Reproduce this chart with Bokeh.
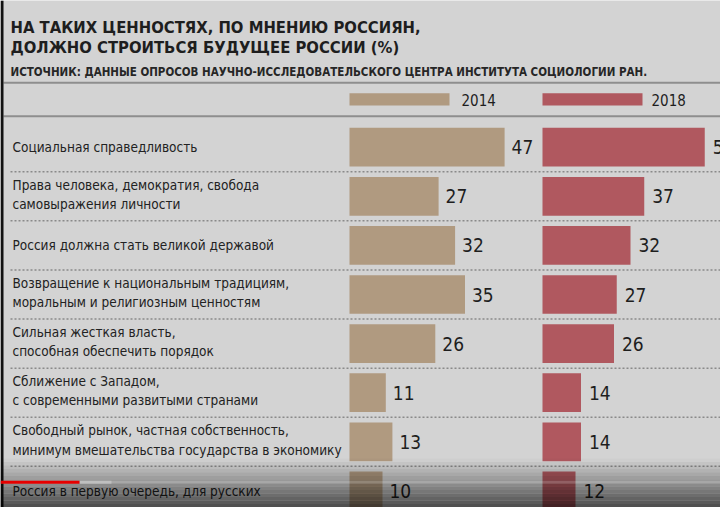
import numpy as np
from bokeh.plotting import figure
from bokeh.models import Range1d, ColumnDataSource
from bokeh.core.properties import value
from bokeh.embed import file_html
from bokeh.resources import INLINE

# ---------------- data ----------------
categories = [
    "Социальная справедливость",
    "Права человека, демократия, свобода\nсамовыражения личности",
    "Россия должна стать великой державой",
    "Возвращение к национальным традициям,\nморальным и религиозным ценностям",
    "Сильная жесткая власть,\nспособная обеспечить порядок",
    "Сближение с Западом,\nс современными развитыми странами",
    "Свободный рынок, частная собственность,\nминимум вмешательства государства в экономику",
    "Россия в первую очередь, для русских",
]
values_2014 = [47, 27, 32, 35, 26, 11, 13, 10]
values_2018 = [59, 37, 32, 27, 26, 14, 14, 12]
series_names = ["2014", "2018"]
title_lines = ["НА ТАКИХ ЦЕННОСТЯХ, ПО МНЕНИЮ РОССИЯН,",
               "ДОЛЖНО СТРОИТЬСЯ БУДУЩЕЕ РОССИИ (%)"]
source_text = "ИСТОЧНИК: ДАННЫЕ ОПРОСОВ НАУЧНО-ИССЛЕДОВАТЕЛЬСКОГО ЦЕНТРА ИНСТИТУТА СОЦИОЛОГИИ РАН."

# ---------------- style ----------------
W, H = 720, 507
BG = "#d3d3d3"
TAN = "#b09a80"
RED = "#b0585f"
INK = "#1e1e1e"
FONT = "DejaVu Sans Condensed, Roboto, sans-serif"

row_pitch = 49.1
first_center = 146.7
idx = list(range(len(categories)))

y_top = -first_center / row_pitch
y_bot = y_top + H / row_pitch

p = figure(width=W, height=H, output_backend="svg", toolbar_location=None,
           x_range=Range1d(0, W), y_range=Range1d(y_bot, y_top),
           min_border=0, min_border_left=0, min_border_right=0,
           min_border_top=0, min_border_bottom=0,
           background_fill_color=BG, border_fill_color=BG, outline_line_color=None)
p.axis.visible = False
p.grid.visible = False

p.extra_y_ranges = {"px": Range1d(H, 0)}
start14, scale14 = 349.0, 3.3
start18, scale18 = 542.0, 2.75
p.extra_x_ranges = {
    "v2014": Range1d(-start14 / scale14, (W - start14) / scale14),
    "v2018": Range1d(-start18 / scale18, (W - start18) / scale18),
}

# title & source
p.text(x=[10], y=[27], text=[title_lines[0]], y_range_name="px",
       text_font=value(FONT), text_font_style="bold", text_font_size="16.5px",
       text_color=INK, text_baseline="alphabetic")
p.text(x=[10], y=[46.5], text=[title_lines[1]], y_range_name="px",
       text_font=value(FONT), text_font_style="bold", text_font_size="16.5px",
       text_color=INK, text_baseline="alphabetic")
p.text(x=[10], y=[71.5], text=[source_text], y_range_name="px",
       text_font=value(FONT), text_font_style="bold", text_font_size="11.5px",
       text_color="#262626", text_baseline="alphabetic")

# header rules
p.segment(x0=[3, 3], x1=[W, W], y0=[82.3, 115.7], y1=[82.3, 115.7],
          y_range_name="px", line_color="#8e8e8e", line_width=2)

# legend
p.quad(left=[0], right=[100 / scale14], bottom=[105], top=[92.7],
       y_range_name="px", x_range_name="v2014", fill_color=TAN, line_color=None)
p.quad(left=[0], right=[100 / scale18], bottom=[105], top=[92.7],
       y_range_name="px", x_range_name="v2018", fill_color=RED, line_color=None)
p.text(x=[100 / scale14], y=[99], text=[series_names[0]], x_range_name="v2014",
       y_range_name="px", x_offset=12, text_font=value(FONT), text_font_size="15px",
       text_color=INK, text_baseline="middle")
p.text(x=[100 / scale18], y=[99], text=[series_names[1]], x_range_name="v2018",
       y_range_name="px", x_offset=9, text_font=value(FONT), text_font_size="15px",
       text_color=INK, text_baseline="middle")

# dotted separators between rows
sep = [i + 0.5 for i in idx[:-1]]
p.segment(x0=[10] * len(sep), x1=[W] * len(sep), y0=sep, y1=sep,
          line_color="#8a8a8a", line_width=1.5, line_dash="2 2")

# bars
bar_h = 38.7 / row_pitch
p.hbar(y=idx, left=0, right=values_2014, height=bar_h, x_range_name="v2014",
       fill_color=TAN, line_color=None)
p.hbar(y=idx, left=0, right=values_2018, height=bar_h, x_range_name="v2018",
       fill_color=RED, line_color=None)

# value labels
p.text(x=values_2014, y=idx, text=[str(v) for v in values_2014], x_range_name="v2014",
       x_offset=7, text_font=value(FONT), text_font_size="19px", text_color=INK,
       text_baseline="middle")
p.text(x=values_2018, y=idx, text=[str(v) for v in values_2018], x_range_name="v2018",
       x_offset=8, text_font=value(FONT), text_font_size="19px", text_color=INK,
       text_baseline="middle")

# category labels
lab_src = ColumnDataSource(dict(
    x=[12] * len(categories), y=idx, text=categories,
    dy=[-2 if "\n" in c else 0 for c in categories],
))
p.text(x="x", y="y", text="text", y_offset="dy", source=lab_src,
       text_font=value(FONT), text_font_size="13.5px", text_color="#222222",
       text_baseline="middle", text_line_height=1.22)

# video-frame artefacts: left dark edge, bottom shading, progress bar
p.quad(left=[0], right=[3], bottom=[H], top=[0], y_range_name="px",
       fill_color="#111111", line_color=None)
edges = np.linspace(458, H, 15)
alphas = np.linspace(0.02, 0.62, 14)
p.quad(left=[0] * 14, right=[W] * 14, top=list(edges[:-1]), bottom=list(edges[1:]),
       y_range_name="px", fill_color="black", fill_alpha=list(alphas), line_color=None)
p.segment(x0=[0], x1=[W], y0=[481.7], y1=[481.7], y_range_name="px",
          line_color="white", line_alpha=0.18, line_width=3)
p.segment(x0=[79], x1=[111], y0=[481.7], y1=[481.7], y_range_name="px",
          line_color="#cfcfcf", line_alpha=0.6, line_width=3)
p.segment(x0=[0], x1=[79], y0=[481.7], y1=[481.7], y_range_name="px",
          line_color="#e60000", line_width=3)

open("out.html", "w").write(file_html(p, INLINE))
